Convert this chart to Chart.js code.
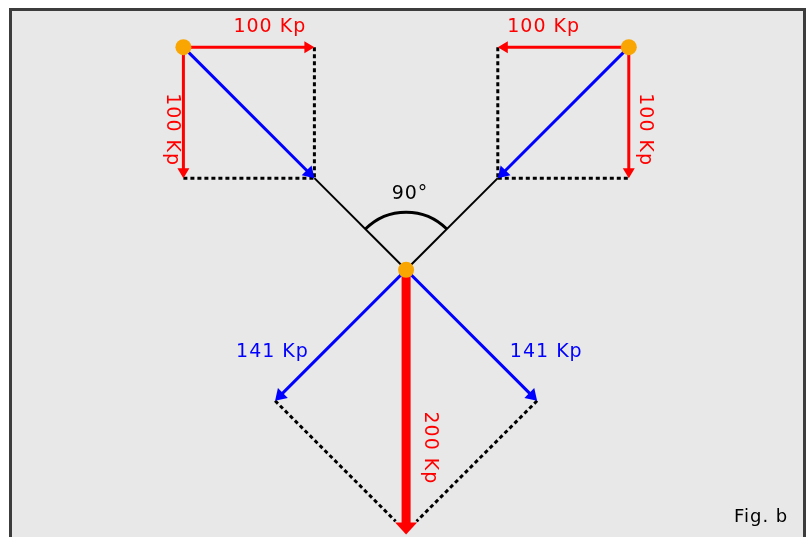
<!DOCTYPE html>
<html>
<head>
<meta charset="utf-8">
<title>Fig. b</title>
<script src="https://cdn.jsdelivr.net/npm/chart.js@4.4.1/dist/chart.umd.min.js"></script>
<style>
  html, body { margin: 0; padding: 0; background: #ffffff; }
  #wrap { width: 808px; height: 537px; }
</style>
</head>
<body>
<div id="wrap"><canvas id="fig" width="808" height="537"></canvas></div>
<script>
// Everything in Kp, the lower knot sits at (0, 0)
const knots = [[-170, 170], [170, 170], [0, 0]];

// force vectors [x1, y1, x2, y2]
const redForces = [[-170, 170, -70, 170], [-170, 170, -170, 70], [170, 170, 70, 170], [170, 170, 170, 70]];
const blueForces = [[-170, 170, -70, 70], [170, 170, 70, 70], [0, 0, -100, -100], [0, 0, 100, -100]];
const loadForce = [[0, 0, 0, -202]];

// ropes and parallelogram helper lines
const ropes = [[-70, 70, 0, 0], [70, 70, 0, 0]];
const helpLines = [[-70, 170, -70, 70], [-170, 70, -70, 70], [70, 170, 70, 70], [70, 70, 170, 70],
                   [-100, -100, -8, -192], [100, -100, 8, -192]];

// 90 degree arc round the lower knot [x, y, radius]
const angleArc = [0, 0, 44];

// labels
const labelText = ['100 Kp', '100 Kp', '100 Kp', '100 Kp', '141 Kp', '141 Kp', '200 Kp', '90°', 'Fig. b'];
const labelX = [-104, 105, -179, 182, -102, 107, 18, 3, 271];
const labelY = [185, 185, 107, 107, -63, -63, -136, 58, -189];
const labelColor = ['red', 'red', 'red', 'red', 'blue', 'blue', 'red', 'black', 'black'];
const labelTurned = [false, false, true, true, false, false, true, false, false];

const RED = '#ff0000';
const BLUE = '#0000ff';
const ORANGE = '#f9a602';
const colors = { red: RED, blue: BLUE, black: '#000000' };

// pull the line end back so it stops inside the arrow head
function trim(s, kp) {
    const dx = s[2] - s[0], dy = s[3] - s[1];
    const len = Math.hypot(dx, dy);
    return [s[0], s[1], s[2] - dx / len * kp, s[3] - dy / len * kp];
}

function segment(s, color, width, dash) {
    return {
        type: 'line',
        data: [{ x: s[0], y: s[1] }, { x: s[2], y: s[3] }],
        borderColor: color,
        borderWidth: width,
        borderDash: dash || [],
        borderCapStyle: 'butt',
        pointRadius: 0,
        fill: false,
        tension: 0
    };
}

const datasets = [];
datasets.push({
    type: 'scatter',
    data: knots.map(k => ({ x: k[0], y: k[1] })),
    pointRadius: 8,
    pointBackgroundColor: ORANGE,
    pointBorderWidth: 0
});
redForces.forEach(s => datasets.push(segment(trim(s, 5), RED, 3)));
blueForces.forEach(s => datasets.push(segment(trim(s, 5), BLUE, 3)));
loadForce.forEach(s => datasets.push(segment(trim(s, 7), RED, 9)));
ropes.forEach(s => datasets.push(segment(s, '#000000', 2)));
helpLines.forEach(s => datasets.push(segment(s, '#000000', 3, [4, 3])));

function drawHead(ctx, x1, y1, x2, y2, len, half, color) {
    const a = Math.atan2(y2 - y1, x2 - x1);
    ctx.save();
    ctx.translate(x2, y2);
    ctx.rotate(a);
    ctx.beginPath();
    ctx.moveTo(0, 0);
    ctx.lineTo(-len, -half);
    ctx.lineTo(-len, half);
    ctx.closePath();
    ctx.fillStyle = color;
    ctx.fill();
    ctx.restore();
}

const figure = {
    id: 'figure',
    beforeDraw(chart) {
        const ctx = chart.ctx;
        ctx.save();
        ctx.fillStyle = '#ffffff';
        ctx.fillRect(0, 0, chart.width, chart.height);
        ctx.fillStyle = '#e8e8e8';
        ctx.fillRect(10, 8, 795, 540);
        ctx.strokeStyle = '#3c3c3c';
        ctx.lineWidth = 3;
        ctx.strokeRect(10.5, 9.5, 794, 540);
        ctx.restore();
    },
    afterDatasetsDraw(chart) {
        const ctx = chart.ctx;
        const xs = chart.scales.x, ys = chart.scales.y;
        const px = v => xs.getPixelForValue(v);
        const py = v => ys.getPixelForValue(v);

        redForces.forEach(s => drawHead(ctx, px(s[0]), py(s[1]), px(s[2]), py(s[3]), 10, 6, RED));
        blueForces.forEach(s => drawHead(ctx, px(s[0]), py(s[1]), px(s[2]), py(s[3]), 11, 7, BLUE));
        loadForce.forEach(s => drawHead(ctx, px(s[0]), py(s[1]), px(s[2]), py(s[3]), 12, 11, RED));

        // angle between the ropes
        const r = px(angleArc[0] + angleArc[2]) - px(angleArc[0]);
        ctx.save();
        ctx.beginPath();
        ctx.arc(px(angleArc[0]), py(angleArc[1]), r, -Math.PI * 3 / 4, -Math.PI / 4);
        ctx.strokeStyle = '#000000';
        ctx.lineWidth = 3;
        ctx.stroke();
        ctx.restore();

        ctx.save();
        ctx.textAlign = 'center';
        ctx.textBaseline = 'middle';
        ctx.letterSpacing = '1px';
        labelText.forEach((t, i) => {
            ctx.save();
            ctx.font = (t === 'Fig. b' ? '18px' : '19px') + ' "DejaVu Sans", Verdana, sans-serif';
            ctx.fillStyle = colors[labelColor[i]];
            ctx.translate(px(labelX[i]), py(labelY[i]));
            if (labelTurned[i]) ctx.rotate(Math.PI / 2);
            ctx.fillText(t, 0, 0);
            ctx.restore();
        });
        ctx.restore();
    }
};

new Chart(document.getElementById('fig'), {
    data: { datasets: datasets },
    plugins: [figure],
    options: {
        responsive: false,
        animation: false,
        events: [],
        layout: { padding: 0, autoPadding: false },
        plugins: { legend: { display: false }, tooltip: { enabled: false } },
        scales: {
            x: { type: 'linear', min: -310, max: 306.8, display: false },
            y: { type: 'linear', min: -204, max: 206, display: false }
        }
    }
});
</script>
</body>
</html>
